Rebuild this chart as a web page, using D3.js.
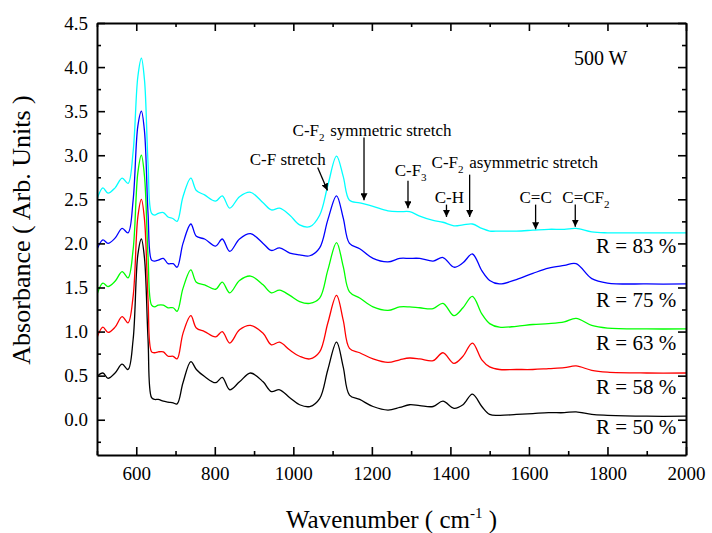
<!DOCTYPE html>
<html>
<head>
<meta charset="utf-8">
<script src="https://cdn.jsdelivr.net/npm/d3@7"></script>
<style>
  html, body { margin: 0; padding: 0; background: #fff; }
  svg { display: block; }
  svg text { font-family: "Liberation Serif", "Times New Roman", Times, serif !important; fill: #000; }
</style>
</head>
<body>
<svg id="chart" width="712" height="533"></svg>
<script>
// FTIR absorbance spectra, 500 W, five ratios R (curves stacked by offset)
const wavenumbers = [500, 515, 528, 546, 564, 579, 592, 604, 613, 621, 630, 639, 647, 656, 669, 681, 694, 704,
  719, 739, 753, 774, 802, 819, 838, 863, 891, 923, 944, 965, 991, 1016, 1042, 1067, 1088, 1110, 1127, 1143,
  1169, 1203, 1241, 1271, 1296, 1322, 1356, 1381, 1409, 1432, 1456, 1480, 1500, 1525, 1568, 1610, 1650, 1690,
  1720, 1760, 1800, 1900, 2000];

const absR50 = [0.49, 0.53, 0.47, 0.53, 0.63, 0.57, 0.91, 1.87, 2.05, 1.83, 0.91, 0.25, 0.23, 0.23, 0.21, 0.20, 0.19, 0.18,
  0.42, 0.66, 0.57, 0.49, 0.42, 0.48, 0.34, 0.43, 0.53, 0.43, 0.32, 0.34, 0.25, 0.17, 0.15, 0.24, 0.57, 0.88, 0.60, 0.28,
  0.23, 0.15, 0.11, 0.14, 0.17, 0.16, 0.15, 0.21, 0.13, 0.17, 0.29, 0.15, 0.06, 0.05, 0.06, 0.07, 0.08, 0.08,
  0.09, 0.06, 0.05, 0.04, 0.04];

const absR58 = [0.93, 1.05, 0.99, 1.05, 1.17, 1.10, 1.40, 2.30, 2.50, 2.27, 1.36, 0.77, 0.76, 0.77, 0.77, 0.72, 0.72, 0.69,
  0.98, 1.18, 1.04, 1.00, 0.94, 1.00, 0.87, 1.02, 1.07, 0.98, 0.85, 0.88, 0.79, 0.72, 0.69, 0.77, 1.10, 1.41, 1.13, 0.81,
  0.76, 0.69, 0.65, 0.68, 0.70, 0.69, 0.67, 0.76, 0.64, 0.72, 0.87, 0.68, 0.60, 0.57, 0.57, 0.57, 0.58, 0.59,
  0.61, 0.56, 0.54, 0.53, 0.53];

const absR63 = [1.42, 1.55, 1.51, 1.57, 1.68, 1.61, 1.93, 2.80, 3.00, 2.76, 1.85, 1.30, 1.28, 1.30, 1.30, 1.27, 1.27, 1.23,
  1.49, 1.70, 1.56, 1.53, 1.48, 1.56, 1.44, 1.58, 1.63, 1.53, 1.44, 1.47, 1.41, 1.34, 1.32, 1.38, 1.70, 2.01, 1.74, 1.45,
  1.38, 1.28, 1.24, 1.28, 1.28, 1.27, 1.26, 1.32, 1.18, 1.27, 1.40, 1.20, 1.09, 1.05, 1.06, 1.08, 1.09, 1.11,
  1.15, 1.07, 1.04, 1.03, 1.03];

const absR75 = [1.93, 2.04, 2.00, 2.06, 2.17, 2.12, 2.49, 3.33, 3.50, 3.27, 2.34, 1.81, 1.80, 1.81, 1.83, 1.77, 1.77, 1.73,
  2.00, 2.22, 2.08, 2.05, 1.97, 2.05, 1.91, 2.05, 2.11, 2.00, 1.92, 1.95, 1.89, 1.87, 1.86, 1.95, 2.27, 2.54, 2.29, 2.00,
  1.94, 1.83, 1.79, 1.83, 1.83, 1.83, 1.80, 1.84, 1.73, 1.78, 1.88, 1.69, 1.58, 1.54, 1.59, 1.66, 1.72, 1.75,
  1.77, 1.60, 1.55, 1.54, 1.54];

const absR83 = [2.50, 2.63, 2.57, 2.63, 2.74, 2.68, 3.04, 3.89, 4.10, 3.85, 2.91, 2.34, 2.32, 2.34, 2.35, 2.30, 2.28, 2.25,
  2.53, 2.74, 2.60, 2.55, 2.48, 2.54, 2.40, 2.53, 2.58, 2.46, 2.38, 2.40, 2.32, 2.21, 2.19, 2.32, 2.66, 2.99, 2.76, 2.49,
  2.46, 2.42, 2.37, 2.36, 2.36, 2.31, 2.26, 2.24, 2.20, 2.21, 2.22, 2.17, 2.14, 2.14, 2.14, 2.15, 2.16, 2.16,
  2.17, 2.13, 2.12, 2.12, 2.12];

const seriesNames = ["R = 50 %", "R = 58 %", "R = 63 %", "R = 75 %", "R = 83 %"];
const seriesValues = [absR50, absR58, absR63, absR75, absR83];
const seriesColors = ["#000000", "#ff0000", "#00ff00", "#0000ff", "#00ffff"];

const xTickValues = [600, 800, 1000, 1200, 1400, 1600, 1800, 2000];
const xMinorTicks = [500, 700, 900, 1100, 1300, 1500, 1700, 1900];
const yTickValues = [0.0, 0.5, 1.0, 1.5, 2.0, 2.5, 3.0, 3.5, 4.0, 4.5];
const yMinorTicks = [-0.25, 0.25, 0.75, 1.25, 1.75, 2.25, 2.75, 3.25, 3.75, 4.25];

// ---- layout ----
const svg = d3.select("#chart");
const margin = { left: 97, right: 26, top: 23, bottom: 78 };
const W = 712, H = 533;
const x = d3.scaleLinear().domain([500, 2000]).range([margin.left, W - margin.right]);
const y = d3.scaleLinear().domain([-0.4, 4.5]).range([H - margin.bottom, margin.top]);

svg.append("defs").append("clipPath").attr("id", "plotClip")
  .append("rect")
  .attr("x", x(500)).attr("y", y(4.5))
  .attr("width", x(2000) - x(500)).attr("height", y(-0.4) - y(4.5));

svg.select("defs").append("marker")
  .attr("id", "arrowHead")
  .attr("viewBox", "0 0 10 10")
  .attr("refX", 10).attr("refY", 5)
  .attr("markerWidth", 7).attr("markerHeight", 7)
  .attr("markerUnits", "userSpaceOnUse")
  .attr("orient", "auto")
  .append("path").attr("d", "M0,0 L10,5 L0,10 Z").attr("fill", "#000");

// ---- spectra ----
const line = d3.line()
  .x(d => x(d[0]))
  .y(d => y(d[1]))
  .curve(d3.curveCatmullRom.alpha(0.5));

const plot = svg.append("g").attr("clip-path", "url(#plotClip)");
seriesValues.forEach((vals, i) => {
  const pts = wavenumbers.map((w, k) => [w, vals[k]]);
  plot.append("path")
    .datum(pts)
    .attr("d", line)
    .attr("fill", "none")
    .attr("stroke", seriesColors[i])
    .attr("stroke-width", 1.3);
});

// ---- axes (ticks point inward, mirrored on top/right) ----
const tickFont = 19;
const majorLen = 8, minorLen = 4;

function styleAxis(g) {
  g.select(".domain").attr("stroke-width", 2);
  g.selectAll(".tick line").attr("stroke-width", 1.6);
  g.selectAll("text").attr("font-size", tickFont);
}
function minorAxis(g) {
  g.select(".domain").remove();
  g.selectAll(".tick line").attr("stroke-width", 1.6);
}

const xBottom = svg.append("g").attr("transform", `translate(0,${y(-0.4)})`)
  .call(d3.axisBottom(x).tickValues(xTickValues).tickSize(-majorLen).tickPadding(12).tickFormat(d3.format("d")).tickSizeOuter(0));
styleAxis(xBottom);
svg.append("g").attr("transform", `translate(0,${y(-0.4)})`)
  .call(d3.axisBottom(x).tickValues(xMinorTicks).tickSize(-minorLen).tickFormat("").tickSizeOuter(0))
  .call(minorAxis);

const xTop = svg.append("g").attr("transform", `translate(0,${y(4.5)})`)
  .call(d3.axisTop(x).tickValues(xTickValues).tickSize(-majorLen).tickFormat("").tickSizeOuter(0));
styleAxis(xTop);
svg.append("g").attr("transform", `translate(0,${y(4.5)})`)
  .call(d3.axisTop(x).tickValues(xMinorTicks).tickSize(-minorLen).tickFormat("").tickSizeOuter(0))
  .call(minorAxis);

const yLeft = svg.append("g").attr("transform", `translate(${x(500)},0)`)
  .call(d3.axisLeft(y).tickValues(yTickValues).tickSize(-majorLen).tickPadding(9).tickFormat(d3.format(".1f")).tickSizeOuter(0));
styleAxis(yLeft);
svg.append("g").attr("transform", `translate(${x(500)},0)`)
  .call(d3.axisLeft(y).tickValues(yMinorTicks).tickSize(-minorLen).tickFormat("").tickSizeOuter(0))
  .call(minorAxis);

const yRight = svg.append("g").attr("transform", `translate(${x(2000)},0)`)
  .call(d3.axisRight(y).tickValues(yTickValues).tickSize(-majorLen).tickFormat("").tickSizeOuter(0));
styleAxis(yRight);
svg.append("g").attr("transform", `translate(${x(2000)},0)`)
  .call(d3.axisRight(y).tickValues(yMinorTicks).tickSize(-minorLen).tickFormat("").tickSizeOuter(0))
  .call(minorAxis);

// ---- axis titles ----
const xTitle = svg.append("text")
  .attr("x", (x(500) + x(2000)) / 2).attr("y", 528)
  .attr("text-anchor", "middle").attr("font-size", 25);
xTitle.append("tspan").text("Wavenumber ( cm");
xTitle.append("tspan").attr("font-size", 15).attr("dy", -10).text("-1");
xTitle.append("tspan").attr("dy", 10).text(" )");

svg.append("text")
  .attr("transform", `translate(30,230) rotate(-90)`)
  .attr("text-anchor", "middle").attr("font-size", 26)
  .text("Absorbance ( Arb. Units )");

// ---- series labels ----
const seriesLabelY = [-0.16, 0.29, 0.79, 1.28, 1.89];
seriesNames.forEach((name, i) => {
  svg.append("text")
    .attr("x", x(1975)).attr("y", y(seriesLabelY[i]))
    .attr("text-anchor", "end").attr("font-size", 21)
    .text(name);
});

svg.append("text")
  .attr("x", x(1851)).attr("y", y(4.02))
  .attr("text-anchor", "end").attr("font-size", 20)
  .text("500 W");

// ---- band assignments ----
const annFont = 17;
function annText(wx, vy, parts) {
  const t = svg.append("text").attr("x", x(wx)).attr("y", y(vy)).attr("font-size", annFont);
  parts.forEach(p => {
    if (typeof p === "string") t.append("tspan").text(p);
    else {
      t.append("tspan").attr("font-size", 11).attr("dy", 5).text(p.sub);
      t.append("tspan").attr("dy", -5).text("\u200A");
    }
  });
}
function annArrow(w0, v0, w1, v1) {
  svg.append("line")
    .attr("x1", x(w0)).attr("y1", y(v0)).attr("x2", x(w1)).attr("y2", y(v1))
    .attr("stroke", "#000").attr("stroke-width", 1.3)
    .attr("marker-end", "url(#arrowHead)");
}

annText(889, 2.89, ["C-F stretch"]);
annArrow(1062, 2.86, 1087, 2.60);

annText(998, 3.22, ["C-F", { sub: "2" }, " symmetric stretch"]);
annArrow(1180, 3.20, 1180, 2.49);

annText(1258, 2.76, ["C-F", { sub: "3" }]);
annArrow(1292, 2.71, 1292, 2.40);

annText(1352, 2.86, ["C-F", { sub: "2" }, " asymmetric stretch"]);
annArrow(1449, 2.78, 1449, 2.30);

annText(1360, 2.46, ["C-H"]);
annArrow(1390, 2.44, 1390, 2.30);

annText(1576, 2.46, ["C=C"]);
annArrow(1617, 2.44, 1617, 2.16);

annText(1685, 2.46, ["C=CF", { sub: "2" }]);
annArrow(1718, 2.44, 1718, 2.19);
</script>
</body>
</html>
